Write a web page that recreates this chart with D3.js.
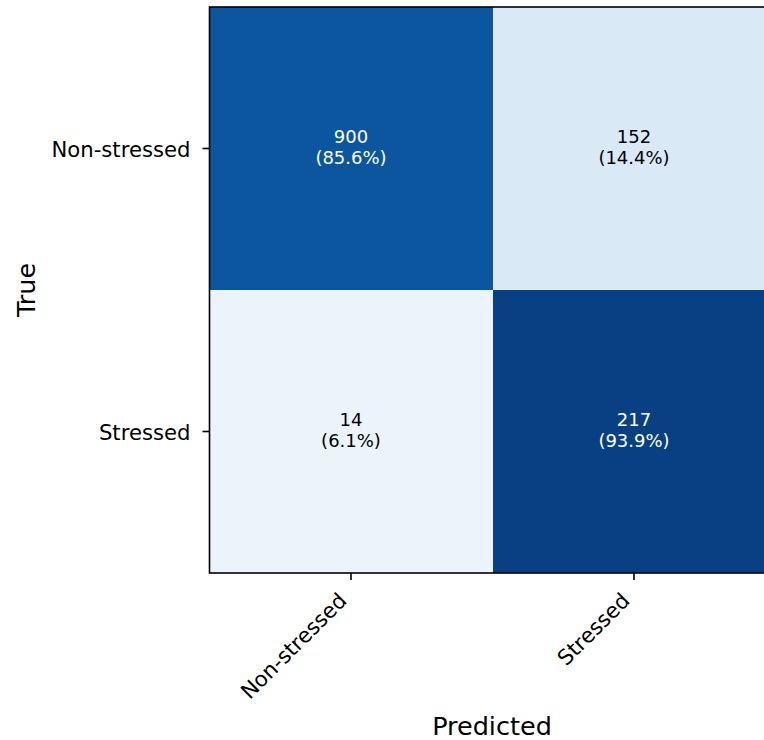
<!DOCTYPE html>
<html>
<head>
<meta charset="utf-8">
<script src="https://cdn.jsdelivr.net/npm/d3@7"></script>
<style>
  body { margin: 0; background: #fff; }
  text { font-family: "DejaVu Sans", sans-serif; }
</style>
</head>
<body>
<div id="chart"></div>
<script>
// confusion matrix data (rows = true, cols = predicted)
const classes = ['Non-stressed', 'Stressed'];
const rowNonStressed = [900, 152];
const rowStressed = [14, 217];
const xTitle = 'Predicted';
const yTitle = 'True';

const counts = [rowNonStressed, rowStressed];

let width = 764, height = 740;
let margin = {top: 7, left: 209.5};
let cellSize = 283;

const svg = d3.select('#chart').append('svg')
	.attr('width', width)
	.attr('height', height);

let x = d3.scaleBand().domain(classes).range([margin.left, margin.left + cellSize*classes.length]);
let y = d3.scaleBand().domain(classes).range([margin.top, margin.top + cellSize*classes.length]);

// matplotlib style Blues: linear between the 9 brewer stops
const blues = d3.schemeBlues[9];
let color = d3.scaleLinear()
	.domain(blues.map((d, i) => i/(blues.length-1)))
	.range(blues)
	.interpolate(d3.interpolateRgb);

let cells = [];
counts.forEach(function(row, i) {
	let total = d3.sum(row);
	row.forEach(function(v, j) {
		cells.push({t: classes[i], p: classes[j], n: v, frac: v/total});
	});
});

let g = svg.append('g');
g.selectAll('rect.cell').data(cells).enter().append('rect')
	.attr('class', 'cell')
	.attr('x', d => x(d.p))
	.attr('y', d => y(d.t))
	.attr('width', x.bandwidth())
	.attr('height', y.bandwidth())
	.attr('fill', d => color(d.frac))
	.attr('shape-rendering', 'crispEdges');

let labels = g.selectAll('text.val').data(cells).enter().append('text')
	.attr('class', 'val')
	.attr('text-anchor', 'middle')
	.attr('font-size', 18)
	.attr('fill', d => d.frac > 0.5 ? '#fff' : '#000');
labels.append('tspan')
	.attr('x', d => x(d.p) + x.bandwidth()/2)
	.attr('y', d => y(d.t) + y.bandwidth()/2 - 6)
	.text(d => d.n);
labels.append('tspan')
	.attr('x', d => x(d.p) + x.bandwidth()/2)
	.attr('y', d => y(d.t) + y.bandwidth()/2 + 15.5)
	.text(d => '(' + (d.frac*100).toFixed(1) + '%)');

// frame
svg.append('rect')
	.attr('x', x.range()[0]).attr('y', y.range()[0])
	.attr('width', x.range()[1]-x.range()[0])
	.attr('height', y.range()[1]-y.range()[0])
	.attr('fill', 'none').attr('stroke', '#000').attr('stroke-width', 1.6);

// x axis
let xAxis = svg.append('g')
	.attr('transform', `translate(0,${y.range()[1]})`)
	.call(d3.axisBottom(x).tickSize(7).tickPadding(0));
xAxis.select('.domain').remove();
xAxis.selectAll('line').attr('stroke', '#000').attr('stroke-width', 1.6);
xAxis.selectAll('text')
	.attr('font-size', 21.2)
	.attr('fill', '#000')
	.attr('text-anchor', 'end')
	.attr('dy', null)
	.attr('y', null)
	.attr('transform', 'translate(-3,29) rotate(-45)');

// y axis
let yAxis = svg.append('g')
	.attr('transform', `translate(${x.range()[0]},0)`)
	.call(d3.axisLeft(y).tickSize(7).tickPadding(12));
yAxis.select('.domain').remove();
yAxis.selectAll('line').attr('stroke', '#000').attr('stroke-width', 1.6);
yAxis.selectAll('text')
	.attr('font-size', 21.2)
	.attr('dy', '0.4em')
	.attr('fill', '#000');

// axis titles
svg.append('text')
	.attr('x', 492).attr('y', 735)
	.attr('text-anchor', 'middle')
	.attr('font-size', 25.5)
	.text(xTitle);
svg.append('text')
	.attr('transform', 'translate(35,290) rotate(-90)')
	.attr('text-anchor', 'middle')
	.attr('font-size', 25.5)
	.text(yTitle);
</script>
</body>
</html>
